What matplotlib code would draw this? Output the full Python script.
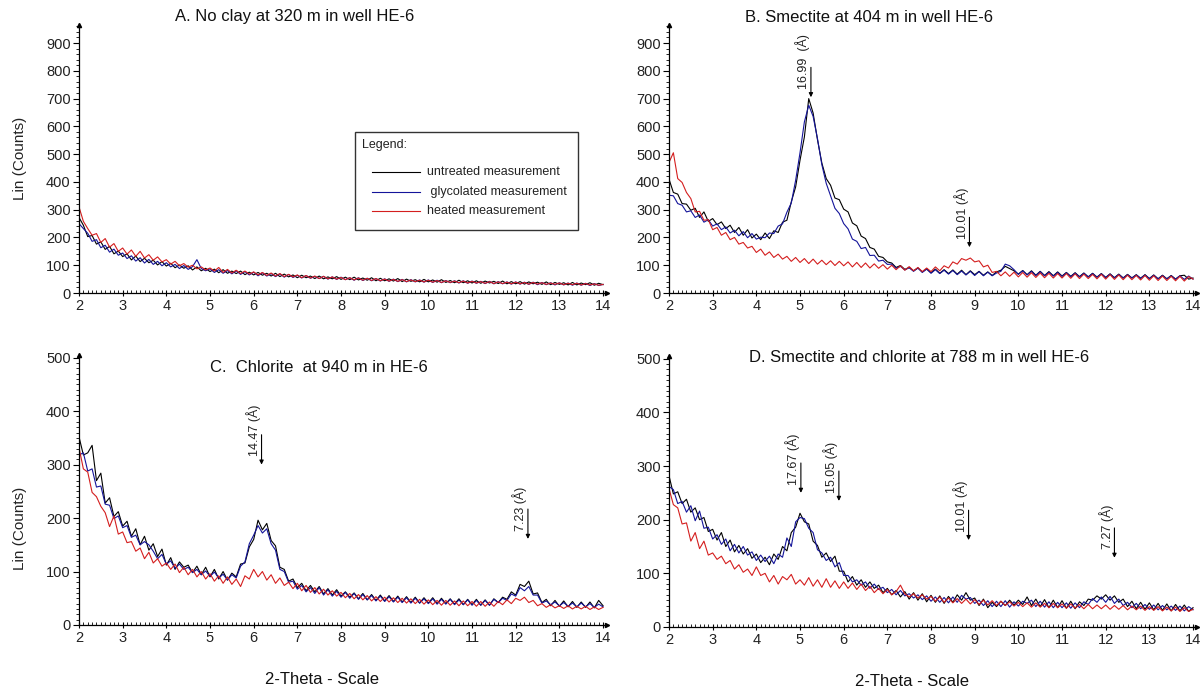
import numpy as np
import matplotlib.pyplot as plt
import matplotlib.transforms as mtransforms
from matplotlib.patches import Rectangle
from matplotlib.lines import Line2D
from matplotlib.ticker import MultipleLocator

plt.rcParams['font.family'] = ['Liberation Sans', 'DejaVu Sans']

W, H = 1204, 690

# 2-theta positions of the scan (step 0.1 deg)
two_theta = np.round(np.linspace(2.0, 14.0, 121), 1)

# A. No clay at 320 m
a_untreated = [272, 244, 203, 207, 176, 184, 157, 168, 141, 151,
               131, 141, 119, 133, 113, 125, 109, 118, 101, 113,
               97, 107, 91, 101, 89, 98, 83, 94, 80, 89,
               77, 86, 73, 84, 71, 79, 70, 79, 66, 75,
               65, 74, 64, 71, 61, 71, 59, 68, 58, 65,
               55, 64, 55, 61, 52, 61, 51, 58, 51, 59,
               49, 57, 48, 57, 47, 54, 46, 55, 44, 53,
               44, 51, 43, 52, 41, 50, 42, 48, 40, 49,
               40, 47, 39, 48, 38, 45, 37, 46, 37, 44,
               36, 44, 35, 43, 36, 42, 34, 43, 33, 41,
               33, 41, 32, 40, 33, 39, 31, 40, 30, 38,
               31, 37, 29, 38, 29, 36, 30, 37, 28, 35,
               30]
a_glycolated = [250, 232, 215, 186, 192, 163, 172, 147, 158, 136,
                144, 124, 134, 115, 127, 108, 121, 103, 114, 98,
                109, 94, 103, 88, 99, 85, 95, 120, 88, 80,
                87, 74, 84, 71, 81, 69, 80, 67, 77, 65,
                75, 62, 73, 61, 70, 59, 69, 57, 67, 56,
                64, 54, 63, 53, 60, 52, 60, 50, 58, 49,
                57, 48, 55, 46, 55, 45, 53, 44, 52, 43,
                51, 42, 50, 41, 49, 40, 48, 40, 47, 39,
                47, 38, 46, 37, 45, 37, 44, 36, 44, 35,
                43, 35, 42, 34, 42, 33, 41, 33, 40, 32,
                40, 32, 39, 31, 39, 30, 38, 30, 37, 29,
                37, 29, 36, 28, 36, 28, 35, 27, 34, 27,
                31]
a_heated = [310, 258, 232, 208, 214, 182, 196, 165, 178, 150,
            162, 140, 155, 132, 150, 126, 138, 118, 130, 112,
            120, 104, 114, 98, 106, 93, 100, 87, 94, 83,
            90, 79, 92, 74, 85, 72, 82, 70, 79, 68,
            76, 65, 74, 63, 72, 61, 70, 59, 67, 58,
            65, 55, 63, 54, 61, 52, 60, 51, 58, 50,
            56, 48, 55, 47, 54, 46, 53, 45, 52, 44,
            50, 43, 49, 42, 48, 41, 47, 41, 46, 40,
            46, 39, 45, 38, 44, 38, 43, 37, 43, 36,
            42, 36, 41, 35, 41, 34, 40, 34, 39, 33,
            39, 33, 38, 32, 38, 32, 37, 31, 36, 31,
            36, 30, 35, 30, 35, 29, 34, 29, 33, 28,
            31]

# B. Smectite at 404 m
b_untreated = [410, 362, 356, 322, 320, 298, 305, 272, 292, 258,
               268, 246, 256, 232, 244, 218, 236, 208, 228, 198,
               212, 192, 216, 196, 224, 218, 255, 262, 328, 382,
               478, 562, 700, 648, 552, 468, 412, 388, 342, 336,
               302, 292, 252, 242, 205, 196, 164, 158, 132, 128,
               112, 108, 92, 99, 85, 92, 80, 90, 76, 87,
               73, 86, 71, 84, 70, 83, 68, 82, 66, 80,
               66, 78, 64, 76, 63, 76, 82, 96, 88, 80,
               68, 81, 66, 80, 64, 78, 63, 77, 62, 76,
               61, 74, 60, 73, 59, 72, 58, 71, 57, 70,
               56, 69, 55, 68, 54, 67, 54, 66, 53, 66,
               52, 65, 51, 64, 51, 63, 50, 62, 64, 50,
               54]
b_glycolated = [352, 350, 322, 316, 292, 296, 272, 281, 255, 264,
                241, 249, 228, 238, 216, 226, 206, 221, 199, 214,
                194, 201, 199, 216, 214, 241, 249, 291, 324, 406,
                505, 616, 676, 636, 556, 462, 395, 350, 305, 286,
                250, 231, 194, 186, 160, 164, 135, 136, 115, 118,
                103, 104, 89, 96, 83, 91, 78, 90, 74, 86,
                71, 84, 70, 82, 68, 81, 66, 79, 65, 78,
                63, 77, 62, 75, 62, 72, 78, 104, 98, 84,
                67, 80, 65, 78, 63, 77, 62, 75, 61, 74,
                60, 73, 59, 72, 58, 71, 58, 70, 57, 69,
                56, 68, 55, 67, 54, 66, 54, 65, 53, 65,
                52, 64, 51, 63, 51, 62, 50, 62, 49, 61,
                50]
b_heated = [470, 505, 412, 398, 362, 340, 292, 294, 262, 264,
            228, 236, 208, 218, 192, 200, 176, 182, 162, 168,
            146, 158, 136, 148, 128, 140, 122, 132, 114, 128,
            110, 124, 106, 122, 104, 118, 102, 116, 99, 114,
            98, 112, 94, 110, 92, 108, 90, 105, 89, 102,
            86, 100, 84, 98, 82, 95, 80, 92, 77, 90,
            77, 94, 80, 98, 90, 112, 104, 124, 118, 126,
            112, 116, 94, 100, 74, 78, 62, 76, 60, 75,
            58, 74, 57, 73, 56, 72, 55, 71, 54, 70,
            54, 70, 53, 69, 52, 68, 52, 67, 51, 67,
            50, 66, 49, 65, 48, 64, 48, 63, 47, 63,
            46, 62, 45, 61, 45, 60, 44, 60, 43, 59,
            50]

# C. Chlorite at 940 m
c_untreated = [352, 318, 322, 336, 270, 284, 228, 238, 203, 212,
               185, 194, 166, 180, 150, 166, 140, 152, 128, 142,
               112, 126, 104, 118, 108, 112, 98, 110, 94, 108,
               90, 104, 86, 100, 84, 97, 90, 114, 116, 146,
               160, 196, 178, 190, 158, 148, 108, 104, 82, 86,
               70, 78, 64, 74, 62, 72, 58, 68, 56, 66,
               54, 62, 52, 60, 49, 59, 47, 57, 46, 56,
               45, 55, 44, 54, 43, 53, 42, 52, 41, 51,
               41, 51, 40, 50, 40, 49, 39, 49, 38, 48,
               38, 48, 37, 47, 37, 49, 42, 52, 48, 62,
               56, 76, 72, 82, 58, 60, 42, 48, 36, 46,
               35, 45, 34, 44, 33, 43, 33, 43, 32, 46,
               36]
c_glycolated = [318, 322, 288, 292, 258, 260, 226, 224, 199, 204,
                182, 186, 164, 168, 150, 156, 150, 138, 124, 132,
                114, 120, 106, 114, 104, 108, 98, 104, 94, 101,
                91, 99, 88, 95, 84, 94, 88, 110, 118, 152,
                168, 186, 172, 180, 152, 140, 104, 100, 80, 82,
                67, 74, 62, 70, 59, 70, 56, 66, 54, 63,
                52, 61, 50, 59, 48, 57, 47, 55, 45, 54,
                44, 53, 43, 52, 42, 51, 41, 50, 41, 49,
                40, 49, 39, 48, 39, 48, 38, 47, 38, 47,
                37, 46, 37, 46, 37, 48, 42, 50, 46, 58,
                54, 70, 64, 72, 56, 56, 41, 45, 38, 43,
                36, 42, 35, 41, 34, 41, 34, 40, 33, 39,
                34]
c_heated = [332, 292, 286, 248, 240, 222, 210, 184, 204, 170,
            174, 154, 156, 138, 144, 124, 136, 116, 124, 110,
            116, 104, 114, 98, 108, 94, 104, 90, 100, 86,
            96, 82, 92, 78, 90, 76, 86, 72, 92, 86,
            104, 90, 100, 84, 94, 78, 88, 74, 80, 68,
            78, 64, 74, 61, 70, 58, 67, 56, 64, 54,
            61, 51, 59, 49, 57, 47, 55, 45, 53, 44,
            52, 43, 51, 42, 50, 41, 49, 40, 48, 39,
            47, 38, 46, 37, 46, 37, 45, 36, 45, 36,
            44, 35, 44, 35, 43, 35, 44, 38, 47, 40,
            50, 46, 52, 42, 46, 36, 40, 33, 38, 32,
            36, 31, 36, 30, 35, 30, 35, 29, 34, 29,
            33]

# D. Smectite and chlorite at 788 m
d_untreated = [282, 248, 252, 230, 238, 214, 222, 200, 204, 178,
               182, 162, 176, 150, 162, 140, 152, 136, 146, 128,
               136, 120, 130, 116, 136, 126, 150, 142, 176, 186,
               212, 196, 192, 160, 152, 130, 138, 122, 132, 104,
               104, 84, 94, 78, 88, 74, 84, 72, 78, 64,
               72, 60, 68, 56, 66, 52, 64, 50, 62, 47,
               59, 46, 58, 44, 57, 46, 60, 50, 64, 50,
               54, 40, 52, 36, 46, 38, 48, 40, 50, 41,
               50, 42, 56, 40, 52, 38, 51, 36, 50, 36,
               49, 35, 48, 34, 47, 40, 52, 50, 58, 52,
               60, 50, 58, 46, 52, 38, 48, 34, 46, 33,
               45, 32, 44, 31, 43, 30, 42, 30, 41, 29,
               36]
d_glycolated = [262, 256, 230, 234, 214, 226, 198, 216, 184, 186,
                164, 172, 154, 164, 142, 154, 138, 150, 134, 140,
                124, 134, 122, 132, 118, 136, 130, 166, 150, 196,
                204, 202, 184, 176, 144, 138, 124, 130, 112, 120,
                96, 96, 84, 88, 78, 84, 72, 80, 70, 74,
                64, 70, 60, 68, 58, 62, 54, 60, 51, 58,
                48, 56, 46, 55, 45, 56, 46, 59, 52, 55,
                44, 50, 40, 49, 38, 48, 38, 49, 37, 47,
                39, 48, 44, 50, 38, 48, 37, 47, 36, 46,
                36, 45, 35, 45, 36, 47, 42, 53, 46, 56,
                46, 57, 44, 52, 40, 46, 36, 44, 34, 42,
                33, 41, 32, 40, 32, 39, 31, 39, 30, 38,
                32]
d_heated = [258, 228, 222, 192, 194, 160, 176, 146, 160, 134,
            138, 126, 132, 118, 124, 108, 116, 102, 108, 96,
            112, 96, 100, 84, 96, 80, 94, 88, 98, 80,
            88, 78, 92, 76, 88, 74, 90, 74, 86, 72,
            84, 72, 82, 70, 80, 68, 76, 64, 72, 62,
            70, 60, 66, 78, 62, 56, 62, 54, 60, 52,
            57, 48, 56, 46, 54, 45, 53, 44, 52, 43,
            51, 42, 50, 41, 49, 40, 48, 40, 47, 39,
            46, 38, 45, 37, 45, 37, 44, 36, 44, 36,
            43, 35, 43, 35, 42, 34, 42, 34, 41, 34,
            41, 33, 40, 33, 40, 32, 39, 32, 39, 31,
            38, 31, 38, 30, 37, 30, 37, 29, 36, 29,
            33]

# marked reflections: label, 2-theta, counts at arrow tip
b_peaks = [('16.99  (Å)', 5.25, 705), ('10.01 (Å)', 8.88, 165)]
c_peaks = [('14.47 (Å)', 6.18, 300), ('7.23 (Å)', 12.28, 161)]
d_peaks = [('17.67 (Å)', 5.02, 250), ('15.05 (Å)', 5.89, 235),
           ('10.01 (Å)', 8.86, 162), ('7.27 (Å)', 12.2, 129)]

colors = ['#000000', '#14149a', '#d41e1e']
labels = ['untreated measurement', ' glycolated measurement', 'heated measurement']

panels = [
    dict(title='A. No clay at 320 m in well HE-6', title_at=(175, 16),
         left=79, top=25, bottom=293, ymax=965, ytop=900, yminor=20,
         series=[a_untreated, a_glycolated, a_heated], peaks=[]),
    dict(title='B. Smectite at 404 m in well HE-6', title_at=(745, 17),
         left=669, top=25, bottom=293, ymax=965, ytop=900, yminor=20,
         series=[b_untreated, b_glycolated, b_heated], peaks=b_peaks),
    dict(title='C.  Chlorite  at 940 m in HE-6', title_at=(210, 367),
         left=79, top=355, bottom=625, ymax=505, ytop=500, yminor=10,
         series=[c_untreated, c_glycolated, c_heated], peaks=c_peaks),
    dict(title='D. Smectite and chlorite at 788 m in well HE-6', title_at=(749, 357),
         left=669, top=356, bottom=627, ymax=505, ytop=500, yminor=10,
         series=[d_untreated, d_glycolated, d_heated], peaks=d_peaks),
]

fig = plt.figure(figsize=(W / 100, H / 100), dpi=100, facecolor='white')
# image-pixel coordinates, origin at top left
pix = mtransforms.Affine2D().scale(1 / W, -1 / H).translate(0, 1) + fig.transFigure

xmax = 14.08
axis_px = 43.67 * (xmax - 2)

for p in panels:
    ax = fig.add_axes([p['left'] / W, 1 - p['bottom'] / H,
                       axis_px / W, (p['bottom'] - p['top']) / H])
    for ys, c in zip(p['series'], colors):
        ax.plot(two_theta, ys, color=c, lw=0.8)

    ax.set_xlim(2, xmax)
    ax.set_ylim(0, p['ymax'])
    ax.set_xticks(range(2, 15))
    ax.set_yticks(range(0, p['ytop'] + 1, 100))
    ax.xaxis.set_minor_locator(MultipleLocator(0.1))
    ax.yaxis.set_minor_locator(MultipleLocator(p['yminor']))
    ax.tick_params(axis='x', which='major', direction='inout', length=5, width=0.8,
                   labelsize=10.5, labelcolor='#222222', pad=2)
    ax.tick_params(axis='x', which='minor', direction='in', length=2.5, width=0.6)
    ax.tick_params(axis='y', which='major', direction='out', length=4, width=0.8,
                   labelsize=10.5, labelcolor='#222222', pad=2)
    ax.tick_params(axis='y', which='minor', direction='out', length=2, width=0.6)
    for s in ['top', 'right']:
        ax.spines[s].set_visible(False)
    for s in ['left', 'bottom']:
        ax.spines[s].set_linewidth(0.9)
    ax.set_facecolor('none')

    # arrowheads at the axis ends
    ax.plot(1, 0, '>', color='black', ms=3, transform=ax.transAxes, clip_on=False)
    ax.plot(0, 1, '^', color='black', ms=3, transform=ax.transAxes, clip_on=False)

    for label, x, tip in p['peaks']:
        ax.annotate('', xy=(x, tip), xytext=(0, 21.5), textcoords='offset points',
                    arrowprops=dict(arrowstyle='-|>', color='black', lw=0.8,
                                    mutation_scale=6, shrinkA=0, shrinkB=0))
        ax.annotate(label, xy=(x, tip), xytext=(-6, 6), textcoords='offset points',
                    rotation=90, ha='center', va='bottom', fontsize=9, color='#222222')

    fig.text(*p['title_at'], p['title'], transform=pix, ha='left', va='center',
             fontsize=12, color='#111111')

# axis titles
fig.text(20, 158, 'Lin (Counts)', transform=pix, rotation=90, ha='center', va='center',
         fontsize=11, color='#222222')
fig.text(20, 528, 'Lin (Counts)', transform=pix, rotation=90, ha='center', va='center',
         fontsize=11, color='#222222')
fig.text(322, 680, '2-Theta - Scale', transform=pix, ha='center', va='center',
         fontsize=12, color='#111111')
fig.text(912, 682, '2-Theta - Scale', transform=pix, ha='center', va='center',
         fontsize=12, color='#111111')

# legend box in panel A
fig.add_artist(Rectangle((355, 132), 223, 98, transform=pix, fill=False,
                         edgecolor='#333333', lw=1))
fig.text(362, 145, 'Legend:', transform=pix, ha='left', va='center',
         fontsize=9, color='#222222')
for i, (label, c) in enumerate(zip(labels, colors)):
    y = [172, 192, 211][i]
    fig.add_artist(Line2D([372, 420], [y, y], transform=pix, color=c, lw=0.8))
    fig.text(427, y, label, transform=pix, ha='left', va='center',
             fontsize=9, color='#222222')

fig.savefig('out.png', dpi=100)
